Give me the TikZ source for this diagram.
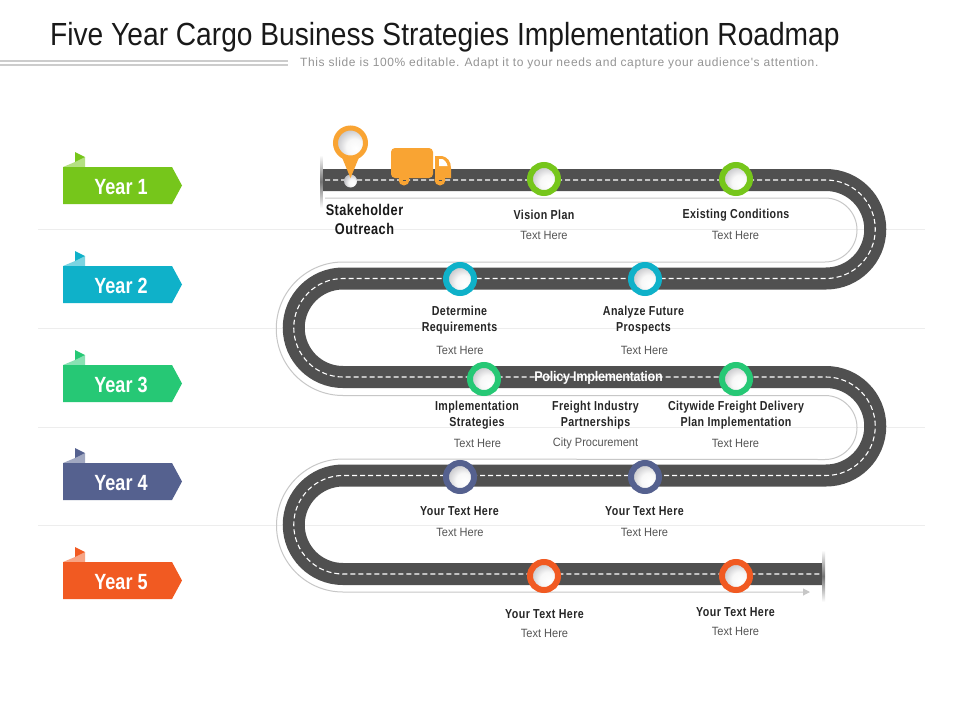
\documentclass[tikz,border=0pt]{standalone}
\usepackage{fontspec}
\usetikzlibrary{arrows.meta}
\setmainfont{Liberation Sans}
\newfontfamily\titlef[FakeStretch=0.88]{Liberation Sans}
\newfontfamily\stf[LetterSpace=5]{Liberation Sans}
\newfontfamily\narrowf[FakeStretch=0.92]{Liberation Sans}
\newfontfamily\yearf[FakeStretch=0.82]{Liberation Sans}
\newfontfamily\lblf[FakeStretch=0.82,LetterSpace=3]{Liberation Sans}
\newfontfamily\polf[FakeStretch=0.90,LetterSpace=-2]{Liberation Sans}
\definecolor{roadc}{HTML}{505050}
\definecolor{cgreen}{HTML}{76C61B}
\definecolor{cteal}{HTML}{0FB1C9}
\definecolor{cmint}{HTML}{26C875}
\definecolor{cnavy}{HTML}{55618F}
\definecolor{corange}{HTML}{F15A22}
\definecolor{cpin}{HTML}{F9A433}
\definecolor{txtg}{HTML}{555555}
\pgfdeclareradialshading{holesh}{\pgfpoint{9bp}{-9bp}}{rgb(0bp)=(1,1,1);rgb(14bp)=(.97,.97,.97);rgb(34bp)=(.70,.70,.72);rgb(58bp)=(.52,.52,.55)}
\tikzset{
  markerring/.style={circle,draw=#1,line width=6pt,minimum size=28pt,inner sep=0pt,shading=holesh},
  title/.style={font=\titlef\fontsize{32}{36}\selectfont,text=black!90,anchor=west,inner sep=0pt},
  subtitle/.style={font=\stf\fontsize{12}{14}\selectfont,text=black!42,anchor=west,inner sep=0pt},
  lbl/.style={font=\lblf\bfseries\fontsize{13}{16}\selectfont,text=black!85,align=center,inner sep=0pt},
  lblbig/.style={font=\lblf\bfseries\fontsize{15.5}{19}\selectfont,text=black!90,align=center,inner sep=0pt},
  sub/.style={font=\narrowf\fontsize{12}{14}\selectfont,text=txtg,inner sep=0pt},
  yeart/.style={font=\yearf\bfseries\fontsize{22}{24}\selectfont,text=white,inner sep=0pt},
  sep/.style={draw=black!7,line width=.7pt},
  roadbase/.style={draw=roadc,line width=22pt},
  roaddash/.style={draw=white,line width=1.1pt,dash pattern=on 5pt off 3pt},
  guide/.style={draw=black!22,line width=1pt},
}
\newcommand{\yearflag}[3]{%
  \fill[#1!55!white] (63,#2) -- (75,#2-5) -- (85,#2-10) -- (85,#2) -- cycle;
  \fill[#1] (75,#2-15) -- (85,#2-10) -- (75,#2-5) -- cycle;
  \fill[#1] (63,#2) -- (172,#2) -- (182,#2+18.5) -- (172,#2+37) -- (63,#2+37) -- cycle;
  \node[yeart] (y#3) at (121,#2+20) {Year #3};
}
\newcommand{\roadpath}{(321,180) -- (826,180) arc[start angle=90,end angle=-90,radius=49.25pt] -- (343,278.5) arc[start angle=90,end angle=270,radius=49.25pt] -- (826,377) arc[start angle=90,end angle=-90,radius=49.25pt] -- (343,475.5) arc[start angle=90,end angle=270,radius=49.25pt] -- (824,574)}
\begin{document}
\begin{tikzpicture}[x=1pt,y=-1pt]
\useasboundingbox (0,0) rectangle (960,720);
\fill[white] (0,0) rectangle (960,720);
% separators
\foreach \yy in {229,328,427,525}{\draw[sep] (38,\yy) -- (925,\yy);}
% header
\node[title] (ttl) at (50,37) {Five Year Cargo Business Strategies Implementation Roadmap};
\node[subtitle] (stt) at (300,63.5) {This slide is 100\% editable. Adapt it to your needs and capture your audience's attention.};
\fill[black!20] (0,60) rectangle (288,61.7);
\fill[black!20] (0,64.3) rectangle (288,66);
% year flags
\yearflag{cgreen}{167}{1}
\yearflag{cteal}{266}{2}
\yearflag{cmint}{365}{3}
\yearflag{cnavy}{463}{4}
\yearflag{corange}{562}{5}
% guide line
\draw[guide,-{Triangle[length=7pt,width=7pt]}] (325,198) -- (825,198) arc[start angle=90,end angle=-90,radius=32pt] -- (343,262) arc[start angle=90,end angle=270,radius=66.75pt] -- (825,395.5) arc[start angle=90,end angle=-90,radius=32pt] -- (343,459) arc[start angle=90,end angle=270,radius=66.5pt] -- (810,592);
% road
\draw[roadbase] \roadpath;
\draw[roaddash] (325,180) -- (826,180) arc[start angle=90,end angle=-90,radius=49.25pt] -- (343,278.5) arc[start angle=90,end angle=270,radius=49.25pt] -- (826,377) arc[start angle=90,end angle=-90,radius=49.25pt] -- (343,475.5) arc[start angle=90,end angle=270,radius=49.25pt] -- (824,574);
% road end shadows
\shade[top color=white,bottom color=white,middle color=black!55] (320,155) rectangle (322.5,208);
\shade[top color=white,bottom color=white,middle color=black!55] (822.5,550) rectangle (825,602);
% policy text
\node[font=\polf\bfseries\fontsize{14}{16}\selectfont,text=white,inner sep=0pt] (pol) at (598.5,378) {Policy Implementation};
% start marker and pin
\node[circle,minimum size=13pt,inner sep=0pt,shading=holesh] (st) at (350.5,181) {};
\fill[cpin] (341,155) -- (360,155) -- (350.5,178) -- cycle;
\node[circle,draw=cpin,line width=5pt,minimum size=30pt,inner sep=0pt,shading=holesh] (pin) at (350.5,143) {};
% truck
\fill[cpin,rounded corners=4pt] (391,148) rectangle (433,178);
\fill[cpin] (435,156) -- (442,156) .. controls (447,157) and (451,161) .. (451,168) -- (451,178) -- (435,178) -- cycle;
\fill[white] (439,159) -- (442,159) .. controls (444.5,159.5) and (447,163) .. (447.5,166) -- (439,166) -- cycle;
\foreach \wx/\wn in {404/a,440/b}{
  \node[circle,fill=cpin,minimum size=11pt,inner sep=0pt] (w\wn) at (\wx,180) {};
  \draw[roadc,line width=.7pt] (\wx-1.5,180) -- (\wx+1.5,180);
}
% markers
\node[markerring=cgreen] (m1) at (544,179) {};
\node[markerring=cgreen] (m2) at (736,179) {};
\node[markerring=cteal] (m3) at (460,279) {};
\node[markerring=cteal] (m4) at (645,279) {};
\node[markerring=cmint] (m5) at (484,379) {};
\node[markerring=cmint] (m6) at (736,379) {};
\node[markerring=cnavy] (m7) at (460,477) {};
\node[markerring=cnavy] (m8) at (645,477) {};
\node[markerring=corange] (m9) at (544,576) {};
\node[markerring=corange] (m10) at (736,576) {};
% labels
\node[lblbig] (l0) at (364.5,219.5) {Stakeholder\\Outreach};
\node[lbl] (l1) at (544,215) {Vision Plan};
\node[sub] (s1) at (544,235) {Text Here};
\node[lbl] (l2) at (736,215) {Existing Conditions};
\node[sub] (s2) at (735.5,235) {Text Here};
\node[lbl] (l3) at (459.5,320.5) {Determine\\Requirements};
\node[sub] (s3) at (460,350) {Text Here};
\node[lbl] (l4) at (643.5,320.5) {Analyze Future\\Prospects};
\node[sub] (s4) at (644.5,350) {Text Here};
\node[lbl] (l5) at (477,415) {Implementation\\Strategies};
\node[sub] (s5) at (477.5,443) {Text Here};
\node[lbl] (l6) at (595.5,415) {Freight Industry\\Partnerships};
\node[sub] (s6) at (595.5,443) {City Procurement};
\node[lbl] (l7) at (736,415) {Citywide Freight Delivery\\Plan Implementation};
\node[sub] (s7) at (735.5,443) {Text Here};
\node[lbl] (l8) at (459.5,511) {Your Text Here};
\node[sub] (s8) at (460,532) {Text Here};
\node[lbl] (l9) at (644.5,511) {Your Text Here};
\node[sub] (s9) at (644.5,532) {Text Here};
\node[lbl] (l10) at (544.5,614) {Your Text Here};
\node[sub] (s10) at (544.5,633) {Text Here};
\node[lbl] (l11) at (735.5,612) {Your Text Here};
\node[sub] (s11) at (735.5,631) {Text Here};
\end{tikzpicture}
\end{document}
